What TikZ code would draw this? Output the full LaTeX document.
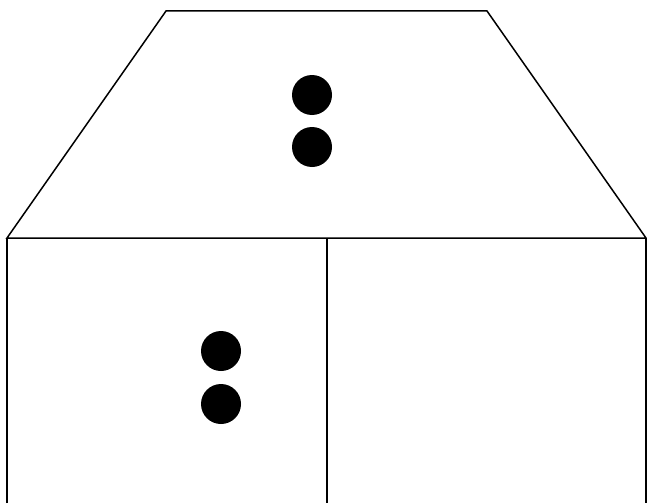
\documentclass[tikz,border=0pt]{standalone}
\begin{document}
\begin{tikzpicture}[x=1pt,y=-1pt,line width=1.5pt,
  dot/.style={circle,fill=black,inner sep=0pt,minimum size=40pt}]
\useasboundingbox (0,0) rectangle (647,503);
\fill[white] (0,0) rectangle (647,503);
\draw[line join=miter] (7,238) -- (166,11) -- (487,11) -- (646,238) -- cycle;
\draw (7,503) -- (7,238) (646,238) -- (646,503);
\draw (327,238) -- (327,503);
\node[dot] (d1) at (312,95) {};
\node[dot] (d2) at (312,147) {};
\node[dot] (d3) at (221,351) {};
\node[dot] (d4) at (221,404) {};
\end{tikzpicture}
\end{document}
